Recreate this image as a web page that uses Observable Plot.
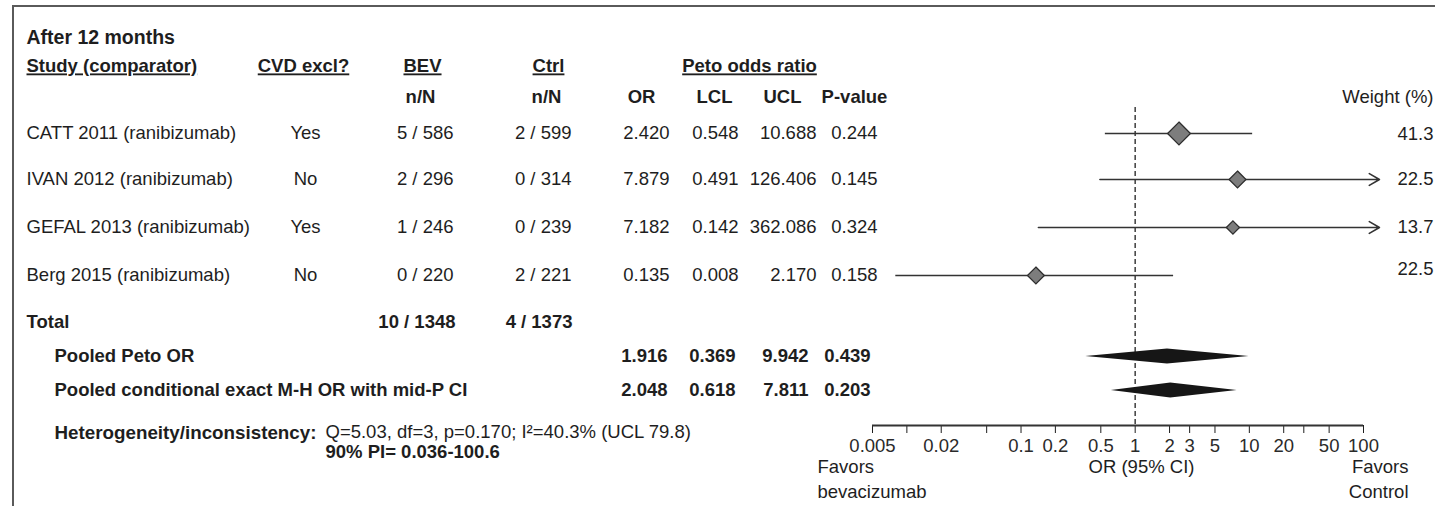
<!DOCTYPE html>
<html><head><meta charset="utf-8">
<script src="https://cdn.jsdelivr.net/npm/d3@7"></script>
<script src="https://cdn.jsdelivr.net/npm/@observablehq/plot@0.6"></script>
<style>
body{margin:0;background:#fff;color:#1e1e1e;}
#wrap{position:relative;width:1435px;height:506px;overflow:hidden;}
#chart{position:absolute;left:0;top:0;}
#border{position:absolute;left:12px;top:5px;right:-10px;bottom:-10px;border-top:2px solid #5a5a5a;border-left:2px solid #5a5a5a;pointer-events:none;z-index:2;}
</style></head><body>
<div id="wrap"><div id="chart"></div><div id="border"></div></div>
<script>
// ---------- data ----------
const title = "After 12 months";
const headers = ["Study (comparator)", "CVD excl?", "BEV", "Ctrl", "Peto odds ratio"];
const studies = ["CATT 2011 (ranibizumab)", "IVAN 2012 (ranibizumab)", "GEFAL 2013 (ranibizumab)", "Berg 2015 (ranibizumab)"];
const cvdExcl = ["Yes", "No", "Yes", "No"];
const bevNN = ["5 / 586", "2 / 296", "1 / 246", "0 / 220"];
const ctrlNN = ["2 / 599", "0 / 314", "0 / 239", "2 / 221"];
const orVals = [2.420, 7.879, 7.182, 0.135];
const lclVals = [0.548, 0.491, 0.142, 0.008];
const uclVals = [10.688, 126.406, 362.086, 2.170];
const pVals = [0.244, 0.145, 0.324, 0.158];
const weights = [41.3, 22.5, 13.7, 22.5];
const totalBev = "10 / 1348";
const totalCtrl = "4 / 1373";
const pooledLabels = ["Pooled Peto OR", "Pooled conditional exact M-H OR with mid-P CI"];
const pooledOR = [1.916, 2.048];
const pooledLCL = [0.369, 0.618];
const pooledUCL = [9.942, 7.811];
const pooledP = [0.439, 0.203];
const heterogeneityText = "Q=5.03, df=3, p=0.170; I\u00B2=40.3% (UCL 79.8)";
const predictionInterval = "90% PI= 0.036-100.6";
const tickValues = [0.005, 0.01, 0.02, 0.05, 0.1, 0.2, 0.5, 1, 2, 3, 5, 10, 20, 30, 50, 100];
const tickLabels = ["0.005", "", "0.02", "", "0.1", "0.2", "0.5", "1", "2", "3", "5", "10", "20", "", "50", "100"];
const xDomain = [0.005, 100];
const arrowEnd = 138; // CIs running past the axis are cut here and drawn as arrows

// ---------- layout (pixels) ----------
const L = {title: 37, header: 66, sub: 97, study: [133, 179, 227, 275], weightDy: [1, 0, 0, -6],
  total: 322, pooled: [356, 390], het: 432, pi: 452, axis: 425, tickLabel: 446, axisTitle: 467, favors2: 492, forestTop: 107};
const C = {study: 26, indent: 54, cvd: 305, bev: 453, ctrl: 571, or: 669, lcl: 738, ucl: 816, p: 877,
  pooledOR: 667, pooledLCL: 735, pooledUCL: 808, pooledP: 870, het2: 325};
const FS = 18.5;

const studyData = studies.map((s, i) => ({study: s, cvd: cvdExcl[i], bev: bevNN[i], ctrl: ctrlNN[i],
  or: orVals[i], lcl: lclVals[i], ucl: uclVals[i], p: pVals[i], w: weights[i], y: L.study[i], wy: L.study[i] + L.weightDy[i]}));
const pooledData = pooledLabels.map((s, i) => ({label: s, or: pooledOR[i], lcl: pooledLCL[i], ucl: pooledUCL[i], p: pooledP[i], y: L.pooled[i]}));
const diamondHalf = 7.5;
const pooledPoly = pooledData.flatMap((d, i) => [
  {k: i, x: d.lcl, y1: d.y, y2: d.y},
  {k: i, x: d.or, y1: d.y - diamondHalf, y2: d.y + diamondHalf},
  {k: i, x: d.ucl, y1: d.y, y2: d.y}
]);
const tickLabelData = tickValues.map((v, i) => ({v, label: tickLabels[i]})).filter(d => d.label);

function txt(text, y, dx, anchor = "start", o = {}) {
  return Plot.text([text], {text: d => d, y: y, frameAnchor: "left", dx, textAnchor: anchor, ...o});
}
function col(data, text, dx, anchor = "end", o = {}) {
  return Plot.text(data, {text, y: "y", frameAnchor: "left", dx, textAnchor: anchor, ...o});
}
const B = {fontWeight: "bold"};

const clipped = studyData.filter(d => d.ucl > xDomain[1]);
const inside = studyData.filter(d => d.ucl <= xDomain[1]);

const plot = Plot.plot({
  width: 1435, height: 506,
  marginLeft: 0, marginRight: 0, marginTop: 0, marginBottom: 81,
  style: {fontFamily: "'Liberation Sans', Arial, Helvetica, sans-serif", fontSize: FS + "px", color: "#1e1e1e", background: "transparent"},
  x: {type: "log", domain: xDomain, range: [872, 1363], ticks: tickValues, tickFormat: () => "",
      tickSize: 8, tickPadding: 5, label: null},
  y: {domain: [0, 425], range: [0, 425], axis: null},
  r: {type: "sqrt", domain: [0, 41.3], range: [0, 10.3]},
  marks: [
    // titles and headers
    txt(title, L.title, C.study, "start", {fontWeight: "bold", fontSize: 19.5}),
    txt(headers[0], L.header, C.study, "start", B),
    txt(headers[1], L.header, 303, "middle", B),
    txt(headers[2], L.header, 422, "middle", B),
    txt(headers[3], L.header, 548, "middle", B),
    txt(headers[4], L.header, 749, "middle", B),
    txt("n/N", L.sub, 420, "middle", B),
    txt("n/N", L.sub, 546, "middle", B),
    txt("OR", L.sub, 641, "middle", B),
    txt("LCL", L.sub, 714, "middle", B),
    txt("UCL", L.sub, 782, "middle", B),
    txt("P-value", L.sub, 854, "middle", B),
    Plot.text(["Weight (%)"], {text: d => d, y: L.sub, frameAnchor: "right", dx: -2, textAnchor: "end"}),
    // study rows
    col(studyData, "study", C.study, "start"),
    col(studyData, "cvd", C.cvd, "middle"),
    col(studyData, "bev", C.bev),
    col(studyData, "ctrl", C.ctrl),
    col(studyData, d => d.or.toFixed(3), C.or),
    col(studyData, d => d.lcl.toFixed(3), C.lcl),
    col(studyData, d => d.ucl.toFixed(3), C.ucl),
    col(studyData, d => d.p.toFixed(3), C.p),
    Plot.text(studyData, {text: d => d.w.toFixed(1), y: "wy", frameAnchor: "right", dx: -2, textAnchor: "end"}),
    // totals
    txt("Total", L.total, C.study, "start", B),
    txt(totalBev, L.total, C.bev + 2, "end", B),
    txt(totalCtrl, L.total, C.ctrl + 1, "end", B),
    // pooled
    col(pooledData, "label", C.indent, "start", B),
    col(pooledData, d => d.or.toFixed(3), C.pooledOR, "end", B),
    col(pooledData, d => d.lcl.toFixed(3), C.pooledLCL, "end", B),
    col(pooledData, d => d.ucl.toFixed(3), C.pooledUCL, "end", B),
    col(pooledData, d => d.p.toFixed(3), C.pooledP, "end", B),
    // heterogeneity
    txt("Heterogeneity/inconsistency:", L.het, C.indent, "start", {fontWeight: "bold", fontSize: 18.8}),
    txt(heterogeneityText, L.het, C.het2, "start"),
    txt(predictionInterval, L.pi, C.het2, "start", B),
    // forest
    Plot.ruleX([1], {y1: L.forestTop, y2: L.axis, stroke: "#4a4a4a", strokeWidth: 1.6, strokeDasharray: "5,3"}),
    Plot.ruleY(inside, {y: "y", x1: "lcl", x2: "ucl", stroke: "#333", strokeWidth: 1.6}),
    Plot.arrow(clipped, {x1: "lcl", x2: () => arrowEnd, y1: "y", y2: "y", stroke: "#333", strokeWidth: 1.6, headLength: 11, headAngle: 60}),
    Plot.dot(studyData, {x: "or", y: "y", r: "w", symbol: "diamond2", fill: "#7d7d7d", stroke: "#2e2e2e", strokeWidth: 1.3}),
    Plot.areaY(pooledPoly, {x: "x", y1: "y1", y2: "y2", z: "k", fill: "#161616", curve: "linear"}),
    // axis line, tick labels and captions
    Plot.ruleY([L.axis], {x1: xDomain[0], x2: xDomain[1], stroke: "#333", strokeWidth: 2}),
    Plot.text(tickLabelData, {x: "v", y: L.tickLabel, text: "label", fill: "#2a2a2a"}),
    txt("OR (95% CI)", L.axisTitle, 1141, "middle"),
    txt("Favors", L.axisTitle, 817, "start"),
    txt("bevacizumab", L.favors2, 817, "start"),
    txt("Favors", L.axisTitle, 1408, "end"),
    txt("Control", L.favors2, 1408, "end")
  ]
});
const headerSet = new Set(headers);
plot.querySelectorAll("text").forEach(t => { if (headerSet.has(t.textContent)) t.setAttribute("text-decoration", "underline"); });
document.getElementById("chart").appendChild(plot);
</script>
</body></html>
